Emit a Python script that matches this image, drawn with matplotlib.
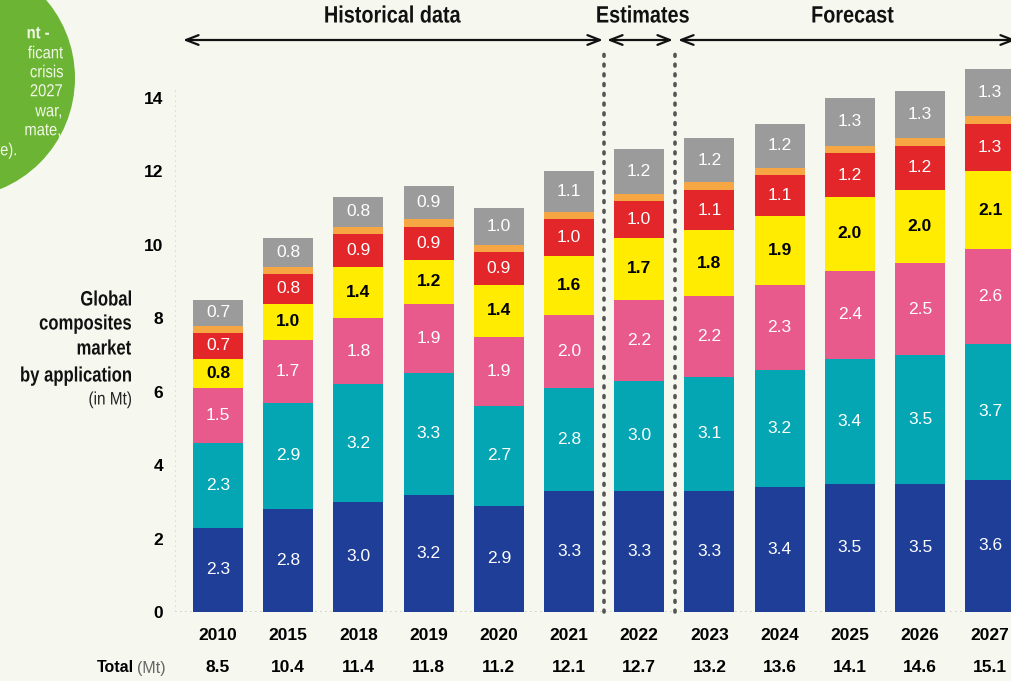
import matplotlib
matplotlib.use("Agg")
import matplotlib.pyplot as plt
from matplotlib.patches import Circle, PathPatch
from matplotlib.textpath import TextPath
from matplotlib.font_manager import FontProperties
from matplotlib.transforms import Affine2D
from matplotlib import font_manager

# ---------------- data ----------------
years = ['2010', '2015', '2018', '2019', '2020', '2021', '2022', '2023', '2024', '2025', '2026', '2027']
navy = [2.3, 2.8, 3.0, 3.2, 2.9, 3.3, 3.3, 3.3, 3.4, 3.5, 3.5, 3.6]
teal = [2.3, 2.9, 3.2, 3.3, 2.7, 2.8, 3.0, 3.1, 3.2, 3.4, 3.5, 3.7]
pink = [1.5, 1.7, 1.8, 1.9, 1.9, 2.0, 2.2, 2.2, 2.3, 2.4, 2.5, 2.6]
yellow = [0.8, 1.0, 1.4, 1.2, 1.4, 1.6, 1.7, 1.8, 1.9, 2.0, 2.0, 2.1]
red = [0.7, 0.8, 0.9, 0.9, 0.9, 1.0, 1.0, 1.1, 1.1, 1.2, 1.2, 1.3]
orange = [0.2, 0.2, 0.2, 0.2, 0.2, 0.2, 0.2, 0.2, 0.2, 0.2, 0.2, 0.2]
gray = [0.7, 0.8, 0.8, 0.9, 1.0, 1.1, 1.2, 1.2, 1.2, 1.3, 1.3, 1.3]
totals = ['8.5', '10.4', '11.4', '11.8', '11.2', '12.1', '12.7', '13.2', '13.6', '14.1', '14.6', '15.1']
yticks = [0, 2, 4, 6, 8, 10, 12, 14]
periods = ['Historical data', 'Estimates', 'Forecast']
circle_lines = ['nt -', 'ficant', 'crisis', '2027', 'war,', 'mate,', 'e).']
ylab = ['Global', 'composites', 'market', 'by application']

# ---------------- style ----------------
avail = {f.name for f in font_manager.fontManager.ttflist}
fam = ['Liberation Sans Narrow', 'DejaVu Sans'] if 'Liberation Sans Narrow' in avail else ['Liberation Sans', 'DejaVu Sans']
plt.rcParams['font.family'] = fam

BG = '#f6f8f0'
C_NAVY = '#1f3e97'
C_TEAL = '#05a6b4'
C_PINK = '#e85a8b'
C_YEL = '#ffec00'
C_RED = '#e2262a'
C_ORA = '#f6a744'
C_GRAY = '#9b9b9b'
C_GREEN = '#6cb534'

W, H = 1011, 681
fig = plt.figure(figsize=(W / 100, H / 100), dpi=100, facecolor=BG)

# pixel geometry
px0 = 612.0          # y pixel of value 0
ppu = 36.71          # pixels per unit
cx0 = 218.0          # x pixel of first bar center
dx = 70.2            # pixels between bars
ax_left_px, ax_top_px = 175.0, 40.0

ylo, yhi = 0, (px0 - ax_top_px) / ppu
xlo, xhi = (ax_left_px - cx0) / dx, (W - cx0) / dx

ax = fig.add_axes([ax_left_px / W, (H - px0) / H, (W - ax_left_px) / W, (px0 - ax_top_px) / H])
ax.set_facecolor(BG)
ax.set_xlim(xlo, xhi)
ax.set_ylim(ylo, yhi)

# overlay in pixel coords (top-left origin) for condensed text and decorations
ov = fig.add_axes([0, 0, 1, 1], zorder=10)
ov.set_xlim(0, W)
ov.set_ylim(H, 0)
ov.axis('off')
ov.patch.set_alpha(0)


def ctext(x, y, s, size, weight='normal', color='#111111', ha='center', sx=0.86):
    """Horizontally condensed text drawn as a path in overlay pixel coordinates."""
    fp = FontProperties(family=fam, weight=weight)
    spx = size * 100 / 72
    tp = TextPath((0, 0), s, size=spx, prop=fp)
    ext = tp.get_extents()
    if ha == 'center':
        ox = -(ext.x0 + ext.x1) / 2 * sx
    elif ha == 'right':
        ox = -ext.x1 * sx
    else:
        ox = -ext.x0 * sx
    tr = Affine2D().scale(sx, -1).translate(x + ox, y + 0.36 * spx)
    ov.add_patch(PathPatch(tr.transform_path(tp), fc=color, lw=0, zorder=2))


x = list(range(len(years)))
bw = 50 / dx
series = [(navy, C_NAVY, 'white'), (teal, C_TEAL, 'white'), (pink, C_PINK, 'white'),
          (yellow, C_YEL, 'black'), (red, C_RED, 'white'), (orange, C_ORA, None),
          (gray, C_GRAY, 'white')]
bottom = [0.0] * len(years)
for vals, col, tcol in series:
    ax.bar(x, vals, bw, bottom=bottom, color=col, linewidth=0, zorder=3)
    if tcol is not None:
        for i, v in enumerate(vals):
            ax.text(i, bottom[i] + v / 2, f'{v:.1f}', ha='center', va='center',
                    color=tcol, fontsize=12.5,
                    fontweight='bold' if tcol == 'black' else 'normal', zorder=4)
    bottom = [b + v for b, v in zip(bottom, vals)]

# spines: faint dotted left and bottom
for s in ['top', 'right', 'left', 'bottom']:
    ax.spines[s].set_visible(False)
ax.axhline(0, color='#c9cbc4', lw=1.2, ls=(0, (1, 2)), zorder=2)
ax.axvline(xlo + 0.003, ymax=14.3 / yhi, color='#d6d8d0', lw=1.2, ls=(0, (1, 2)), zorder=2)

ax.set_yticks(yticks)
ax.set_yticklabels([str(t) for t in yticks], fontsize=12.5, fontweight='bold')
ax.tick_params(axis='y', length=0, pad=8.5)
ax.set_xticks([])

# year labels and totals
for i, (yr, tot) in enumerate(zip(years, totals)):
    ax.text(i, (px0 - 636) / ppu, yr, ha='center', va='center', fontsize=12.5,
            fontweight='bold', clip_on=False)
    ax.text(i, (px0 - 668) / ppu, tot, ha='center', va='center', fontsize=12.5,
            fontweight='bold', clip_on=False)

# separators
sep = [(604 - cx0) / dx, (675 - cx0) / dx]
for s in sep:
    ax.plot([s, s], [0, (px0 - 50) / ppu], color='#555555', lw=2.6,
            ls=(0, (0.5, 2.2)), dash_capstyle='round', zorder=2, clip_on=False)

# arrows + headers
ya = (px0 - ax_top_px) / ppu
spans = [((183 - cx0) / dx, (603 - cx0) / dx, 393),
         ((607 - cx0) / dx, (673 - cx0) / dx, 643),
         ((678 - cx0) / dx, (1016 - cx0) / dx, 853)]
for (a, b, tx), lab in zip(spans, periods):
    ax.annotate('', xy=(b, ya), xytext=(a, ya), xycoords='data',
                arrowprops=dict(arrowstyle='<->,head_length=0.9,head_width=0.35',
                                color='#111111', lw=1.6, shrinkA=0, shrinkB=0),
                annotation_clip=False)
    ctext(tx, 14, lab, 17, weight='bold', ha='center', sx=0.84)

# green circle with cropped note
ov.add_patch(Circle((-45, 78), 120, color=C_GREEN, lw=0, zorder=0))
circ_pos = [(49, 32, 'bold'), (63, 52, 'normal'), (63, 71, 'normal'), (62, 90, 'normal'),
            (61, 110, 'normal'), (60, 129, 'normal'), (16, 149, 'normal')]
for (xr, yy, fw), t in zip(circ_pos, circle_lines):
    ctext(xr, yy, t, 12.5, weight=fw, color='#f2f7e6', ha='right', sx=0.85)

# y-axis title
ylab_y = [298, 322, 347, 374]
for t, yy in zip(ylab, ylab_y):
    ctext(131, yy, t, 15, weight='bold', ha='right', sx=0.8)
ctext(131, 398, '(in Mt)', 13, color='#222222', ha='right', sx=0.85)

# total label
ov.text(134, 668, 'Total', ha='right', va='center', fontsize=11.5, fontweight='bold')
ov.text(166, 668, '(Mt)', ha='right', va='center', fontsize=11.5, color='#666666')

fig.savefig('out.png', dpi=100, facecolor=BG)
